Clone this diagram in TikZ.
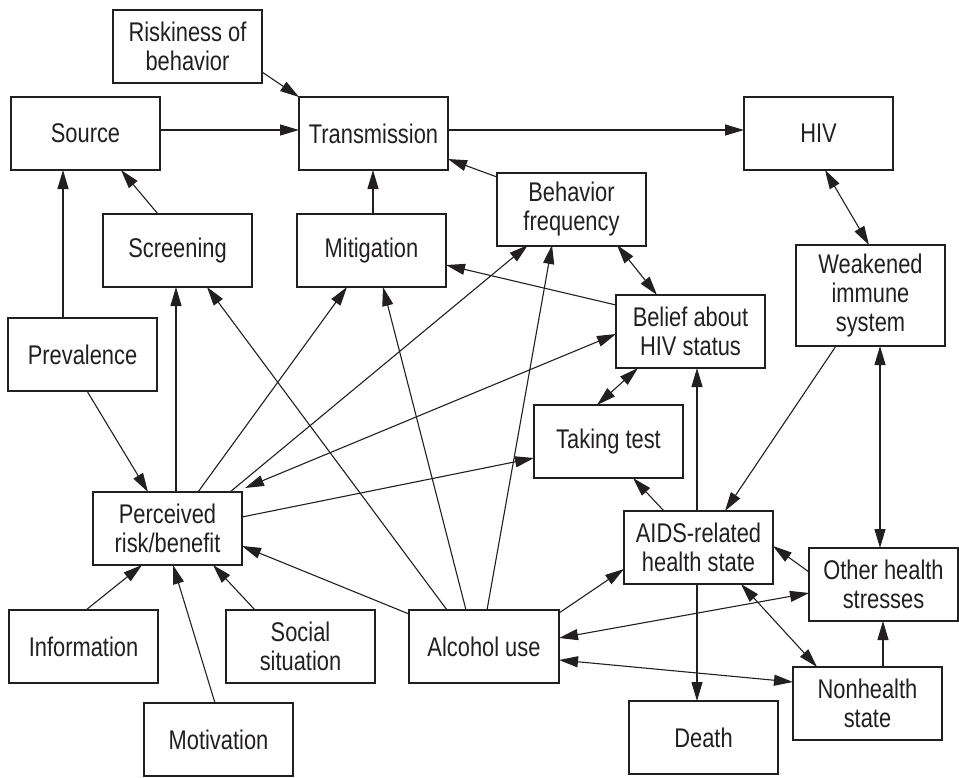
\documentclass[tikz,border=0pt]{standalone}
\usepackage{fontspec}
\setmainfont[FakeStretch=0.81]{Liberation Sans}
\usetikzlibrary{calc,arrows.meta}
\definecolor{ink}{HTML}{231F20}
\newcommand{\cedge}[7]{\draw[#1] ($(#2.north west)+(#3,#4)$) -- ($(#5.north west)+(#6,#7)$);}
\begin{document}
\begin{tikzpicture}[x=1pt,y=-1pt,
  box/.style={draw=ink,line width=1.1pt,minimum width=149pt,minimum height=73pt,inner sep=0pt,outer sep=0pt,anchor=north west,align=center,text=ink,font=\fontsize{27}{29}\selectfont},
  arr/.style={draw=ink,line width=1.1pt,-{Triangle[length=19pt,width=11pt]}},
  dbl/.style={draw=ink,line width=1.1pt,{Triangle[length=19pt,width=11pt]}-{Triangle[length=19pt,width=11pt]}}]
\useasboundingbox (0,0) rectangle (959,777);
\node[box] (risk) at (113,10) {Riskiness of\\behavior};
\node[box] (source) at (11,97) {Source};
\node[box] (trans) at (299,97) {Transmission};
\node[box] (hiv) at (744,97) {HIV};
\node[box] (screen) at (103,214) {Screening};
\node[box] (mitig) at (297,214) {Mitigation};
\node[box] (bfreq) at (497,173) {Behavior\\frequency};
\node[box,minimum height=101pt] (weak) at (796,245) {Weakened\\immune\\system};
\node[box] (prev) at (8,318) {Prevalence};
\node[box] (belief) at (616,295) {Belief about\\HIV status};
\node[box] (test) at (534,405) {Taking test};
\node[box] (perc) at (93,492) {Perceived\\risk/benefit};
\node[box] (aids) at (624,511) {AIDS-related\\health state};
\node[box] (other) at (809,548) {Other health\\stresses};
\node[box] (info) at (9,610) {Information};
\node[box] (social) at (226,610) {Social\\situation};
\node[box,minimum width=150pt] (alc) at (409,610) {Alcohol use};
\node[box] (motiv) at (144,703) {Motivation};
\node[box] (death) at (629,701) {Death};
\node[box] (nonh) at (793,667) {Nonhealth\\state};
% edges
\cedge{arr}{risk}{149}{62}{trans}{0}{0}
\cedge{arr}{source}{149}{33}{trans}{0}{33}
\cedge{arr}{trans}{149}{33}{hiv}{0}{33}
\cedge{arr}{screen}{55}{0}{source}{110}{73}
\cedge{arr}{mitig}{76}{0}{trans}{74}{73}
\cedge{arr}{bfreq}{0}{4}{trans}{149}{62}
\cedge{dbl}{hiv}{81}{73}{weak}{73}{0}
\cedge{arr}{belief}{0}{10}{mitig}{149}{51}
\cedge{dbl}{bfreq}{120}{72}{belief}{41}{0}
\cedge{arr}{perc}{83}{0}{screen}{73}{73}
\cedge{arr}{alc}{38}{0}{screen}{104}{73}
\cedge{arr}{perc}{105}{0}{mitig}{50}{73}
\cedge{arr}{alc}{57}{0}{mitig}{86}{73}
\cedge{arr}{perc}{137}{0}{bfreq}{31}{72}
\cedge{arr}{alc}{78}{0}{bfreq}{55}{72}
\cedge{dbl}{perc}{152}{-4}{belief}{0}{39}
\cedge{arr}{perc}{149}{25}{test}{0}{53}
\cedge{dbl}{belief}{22}{73}{test}{63}{0}
\cedge{arr}{aids}{73}{0}{belief}{81}{73}
\cedge{arr}{weak}{40}{101}{aids}{101}{0}
\cedge{dbl}{weak}{84}{101}{other}{71}{0}
\cedge{arr}{aids}{40}{0}{test}{99}{73}
\cedge{arr}{other}{0}{24}{aids}{149}{35}
\cedge{arr}{alc}{150}{3}{aids}{0}{58}
\cedge{dbl}{alc}{150}{28}{other}{0}{45}
\cedge{dbl}{alc}{150}{50}{nonh}{0}{15}
\cedge{dbl}{aids}{117}{73}{nonh}{24}{0}
\cedge{arr}{aids}{73}{73}{death}{68}{0}
\cedge{arr}{nonh}{90}{0}{other}{74}{73}
\cedge{arr}{prev}{55}{0}{source}{52}{73}
\cedge{arr}{prev}{79}{73}{perc}{55}{0}
\cedge{arr}{info}{77}{0}{perc}{49}{73}
\cedge{arr}{motiv}{71}{0}{perc}{80}{73}
\cedge{arr}{social}{29}{0}{perc}{120}{73}
\cedge{arr}{alc}{0}{4}{perc}{149}{54}
\end{tikzpicture}
\end{document}
